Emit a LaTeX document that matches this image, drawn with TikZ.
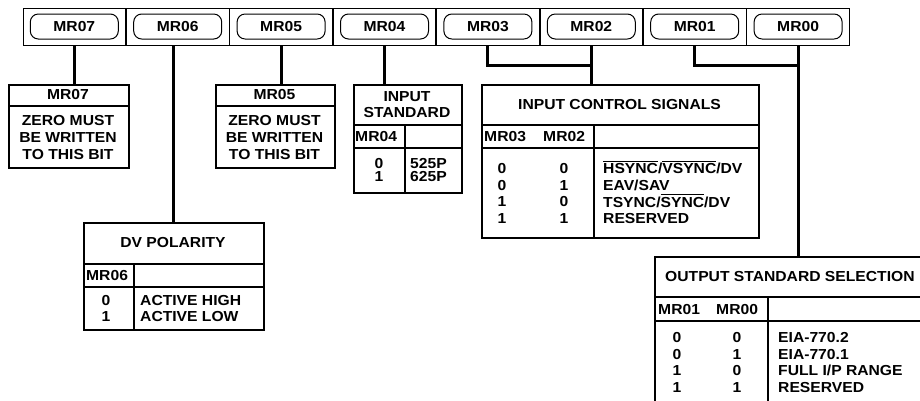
\documentclass[tikz,border=0pt]{standalone}
\usepackage{fontspec}
\setmainfont{Liberation Sans}[FakeStretch=1.08]
\usetikzlibrary{positioning}
\newcommand{\barred}[1]{\setbox0\hbox{#1}\rlap{\smash{\rule[11.7pt]{\wd0}{1.1pt}}}\box0}

\begin{document}
\begin{tikzpicture}[x=1pt,y=-1pt,
                font=\fontsize{14.5}{16.8}\selectfont\bfseries,
                cell/.style={draw,line width=0.8pt,minimum width=102.6pt,minimum height=37pt,inner sep=0pt},
                pill/.style={draw,line width=1pt,rounded corners=8pt,minimum width=88pt,minimum height=25pt,inner sep=0pt},
                tbox/.style={draw,line width=1.8pt,inner sep=0pt,anchor=north west},
                rule/.style={line width=1.5pt},
                wire/.style={line width=3pt},
                txt/.style={inner sep=0pt,align=center},
                ltxt/.style={inner sep=0pt,align=left,anchor=west}]
                \useasboundingbox (0,0) rectangle (920,400);
                \clip (0,0) rectangle (920,400);
                \node[cell](r7) at (74.3,26.5){};
                \node[cell,right=0pt of r7](r6){};
                \node[cell,right=0pt of r6](r5){};
                \node[cell,right=0pt of r5](r4){};
                \node[cell,right=0pt of r4](r3){};
                \node[cell,right=0pt of r3](r2){};
                \node[cell,right=0pt of r2](r1){};
                \node[cell,right=0pt of r1](r0){};
                \node[pill](p7) at (r7){MR07};
                \node[pill](p6) at (r6){MR06};
                \node[pill](p5) at (r5){MR05};
                \node[pill](p4) at (r4){MR04};
                \node[pill](p3) at (r3){MR03};
                \node[pill](p2) at (r2){MR02};
                \node[pill](p1) at (r1){MR01};
                \node[pill](p0) at (r0){MR00};

                \node[tbox,minimum width=120pt,minimum height=83pt](t7) at (8,84){};
                \draw[rule] (8,106) -- (128,106);
                \node[txt](h7) at (68,95){MR07};
                \node[txt](b7) at (68,137.5){ZERO MUST\\BE WRITTEN\\TO THIS BIT};

                \node[tbox,minimum width=119pt,minimum height=83pt](t5) at (215,84){};
                \draw[rule] (215,106) -- (334,106);
                \node[txt](h5) at (274.5,95){MR05};
                \node[txt](b5) at (274.5,137.5){ZERO MUST\\BE WRITTEN\\TO THIS BIT};

                \node[tbox,minimum width=180pt,minimum height=107pt](dv) at (83,222){};
                \draw[rule] (83,264) -- (263,264);
                \draw[rule] (83,287) -- (263,287);
                \draw[rule] (134,264) -- (134,329);
                \node[txt](dvh) at (173,243){DV POLARITY};
                \node[ltxt](dvc) at (86,275.5){MR06};
                \node[txt](dvv) at (106,308.5){0\\1};
                \node[ltxt](dvt) at (140,308.5){ACTIVE HIGH\\ACTIVE LOW};

                \node[tbox,minimum width=108pt,minimum height=108pt](t4) at (353,84){};
                \draw[rule] (353,125) -- (461,125);
                \draw[rule] (353,148) -- (461,148);
                \draw[rule] (405,125) -- (405,192);
                \node[txt](t4h) at (407,104.5){INPUT\\[-1pt]STANDARD};
                \node[ltxt](t4c) at (355,136.5){MR04};
                \node[txt](t4v) at (379,170){0\\[-3pt]1};
                \node[ltxt](t4t) at (410,170){525P\\[-3pt]625P};

                \node[tbox,minimum width=277pt,minimum height=153pt](t32) at (481,84){};
                \draw[rule] (481,125) -- (758,125);
                \draw[rule] (481,148) -- (758,148);
                \draw[rule] (594,125) -- (594,237);
                \node[txt](t32h) at (619.5,105){INPUT CONTROL SIGNALS};
                \node[ltxt](t32a) at (484,136.5){MR03};
                \node[ltxt](t32b) at (543,136.5){MR02};
                \node[txt](t32u) at (502,193.5){0\\0\\1\\1};
                \node[txt](t32v) at (564,193.5){0\\1\\0\\1};
                \node[ltxt](t32t) at (603,193.5){\barred{HSYNC}/\barred{VSYNC}/DV\\EAV/SAV\\TSYNC/\barred{SYNC}/DV\\RESERVED};

                \node[tbox,minimum width=300pt,minimum height=160pt](t10) at (654,256){};
                \draw[rule] (654,297) -- (954,297);
                \draw[rule] (654,321) -- (954,321);
                \draw[rule] (768,297) -- (768,416);
                \node[ltxt](t10h) at (665,276.5){OUTPUT STANDARD SELECTION};
                \node[ltxt](t10a) at (658,309){MR01};
                \node[ltxt](t10b) at (716,309){MR00};
                \node[txt](t10u) at (677,362.5){0\\0\\1\\1};
                \node[txt](t10v) at (737,362.5){0\\1\\0\\1};
                \node[ltxt](t10t) at (778,362.5){EIA-770.2\\EIA-770.1\\FULL I/P RANGE\\RESERVED};

                \draw[wire] (r7.south) -- (r7.south |- t7.north);
                \draw[wire] (dv.north) -- (dv.north |- r6.south);
                \draw[wire] (r5.south) -- (r5.south |- t5.north);
                \draw[wire] (r4.south) -- (r4.south |- t4.north);
                \coordinate[below=20pt of r2.south](j32);
                \draw[wire] (r3.south) |- (j32) -- (r2.south);
                \draw[wire] (j32) -- (j32 |- t32.north);
                \coordinate[below=20pt of r0.south](j10);
                \draw[wire] (r1.south) |- (j10) -- (r0.south);
                \draw[wire] (j10) -- (j10 |- t10.north);
            \end{tikzpicture}
\end{document}
